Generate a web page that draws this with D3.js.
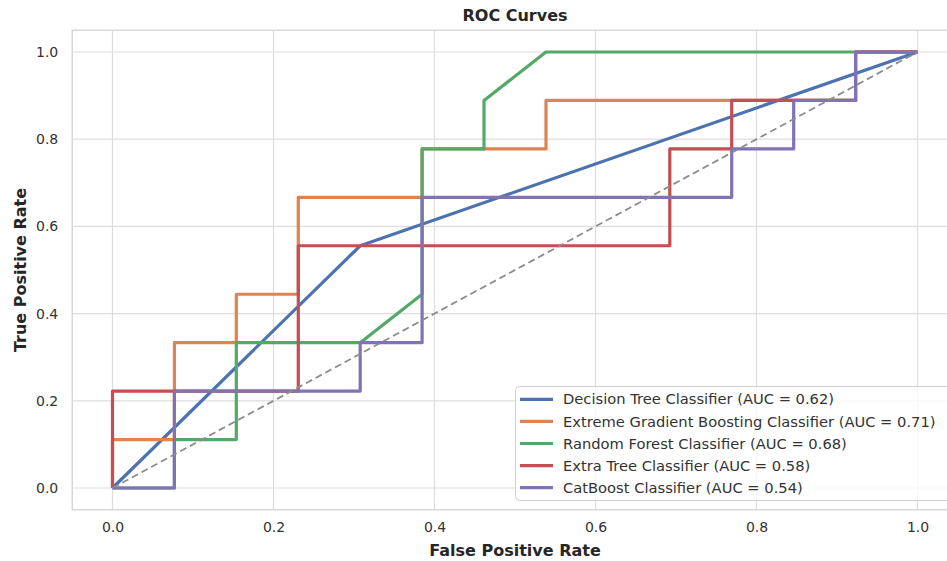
<!DOCTYPE html>
<html>
<head>
<meta charset="utf-8">
<script src="https://cdn.jsdelivr.net/npm/d3@7"></script>
<style>
  html, body { margin: 0; padding: 0; background: #ffffff; }
  svg { display: block; font-family: "DejaVu Sans", sans-serif; }
</style>
</head>
<body>
<svg id="chart" width="947" height="561"></svg>
<script>
// ---- data ----
const seriesNames = [
  "Decision Tree Classifier",
  "Extreme Gradient Boosting Classifier",
  "Random Forest Classifier",
  "Extra Tree Classifier",
  "CatBoost Classifier"
];
const aucValues = [0.62, 0.71, 0.68, 0.58, 0.54];
const seriesColors = ["#4C72B0", "#DD8452", "#55A868", "#C44E52", "#8172B3"];

const dtFpr  = [0, 0.3077, 1];
const dtTpr  = [0, 0.5556, 1];
const xgbFpr = [0, 0, 0.0769, 0.0769, 0.1538, 0.1538, 0.2308, 0.2308, 0.3846, 0.3846, 0.5385, 0.5385, 0.9231, 0.9231, 1];
const xgbTpr = [0, 0.1111, 0.1111, 0.3333, 0.3333, 0.4444, 0.4444, 0.6667, 0.6667, 0.7778, 0.7778, 0.8889, 0.8889, 1, 1];
const rfFpr  = [0, 0.0769, 0.0769, 0.1538, 0.1538, 0.3077, 0.3846, 0.3846, 0.4615, 0.4615, 0.5385, 1];
const rfTpr  = [0, 0, 0.1111, 0.1111, 0.3333, 0.3333, 0.4444, 0.7778, 0.7778, 0.8889, 1, 1];
const etFpr  = [0, 0, 0.2308, 0.2308, 0.6923, 0.6923, 0.7692, 0.7692, 0.9231, 0.9231, 1];
const etTpr  = [0, 0.2222, 0.2222, 0.5556, 0.5556, 0.7778, 0.7778, 0.8889, 0.8889, 1, 1];
const cbFpr  = [0, 0.0769, 0.0769, 0.3077, 0.3077, 0.3846, 0.3846, 0.7692, 0.7692, 0.8462, 0.8462, 0.9231, 0.9231, 1];
const cbTpr  = [0, 0, 0.2222, 0.2222, 0.3333, 0.3333, 0.6667, 0.6667, 0.7778, 0.7778, 0.8889, 0.8889, 1, 1];

const allFpr = [dtFpr, xgbFpr, rfFpr, etFpr, cbFpr];
const allTpr = [dtTpr, xgbTpr, rfTpr, etTpr, cbTpr];

const tickValues = [0.0, 0.2, 0.4, 0.6, 0.8, 1.0];
const titleText = "ROC Curves";
const xLabel = "False Positive Rate";
const yLabel = "True Positive Rate";

// ---- layout ----
const svg = d3.select("#chart");
const pLeft = 72.25, pRight = 957.75, pTop = 30.2, pBottom = 509.8;
const x = d3.scaleLinear().domain([-0.05, 1.05]).range([pLeft, pRight]);
const y = d3.scaleLinear().domain([-0.05, 1.05]).range([pBottom, pTop]);
const gridColor = "#dddddd";
const textColor = "#333333";

// grid
const grid = svg.append("g");
grid.selectAll(".vg").data(tickValues).join("line")
  .attr("x1", d => x(d)).attr("x2", d => x(d))
  .attr("y1", pTop).attr("y2", pBottom)
  .attr("stroke", gridColor).attr("stroke-width", 1.2);
grid.selectAll(".hg").data(tickValues).join("line")
  .attr("x1", pLeft).attr("x2", pRight)
  .attr("y1", d => y(d)).attr("y2", d => y(d))
  .attr("stroke", gridColor).attr("stroke-width", 1.2);

// spines
svg.append("rect")
  .attr("x", pLeft).attr("y", pTop)
  .attr("width", pRight - pLeft).attr("height", pBottom - pTop)
  .attr("fill", "none").attr("stroke", "#d6d6d6").attr("stroke-width", 1.4);

// axes (ticks via d3 axes, lines hidden)
const xAxis = d3.axisBottom(x).tickValues(tickValues).tickFormat(d3.format(".1f")).tickSize(0).tickPadding(12);
const yAxis = d3.axisLeft(y).tickValues(tickValues).tickFormat(d3.format(".1f")).tickSize(0).tickPadding(14);
const gx = svg.append("g").attr("transform", `translate(0,${pBottom})`).call(xAxis);
const gy = svg.append("g").attr("transform", `translate(${pLeft},0)`).call(yAxis);
[gx, gy].forEach(g => {
  g.select(".domain").remove();
  g.selectAll("text").attr("fill", textColor).style("font-size", "14px")
    .style("font-family", "DejaVu Sans, sans-serif");
});

// curves
const line = d3.line().x(d => x(d[0])).y(d => y(d[1]));
allFpr.forEach((fpr, i) => {
  const pts = fpr.map((f, j) => [f, allTpr[i][j]]);
  svg.append("path")
    .attr("d", line(pts))
    .attr("fill", "none")
    .attr("stroke", seriesColors[i])
    .attr("stroke-width", 3.2)
    .attr("stroke-linejoin", "round")
    .attr("stroke-linecap", "butt");
});

// diagonal
svg.append("path")
  .attr("d", line([[0, 0], [1, 1]]))
  .attr("fill", "none")
  .attr("stroke", "#8c8c8c")
  .attr("stroke-width", 1.8)
  .attr("stroke-dasharray", "7,4");

// title & labels
svg.append("text").attr("x", (pLeft + pRight) / 2).attr("y", 21)
  .attr("text-anchor", "middle").attr("font-weight", "bold")
  .attr("font-size", "16px").attr("fill", "#262626").text(titleText);
svg.append("text").attr("x", (pLeft + pRight) / 2).attr("y", 556)
  .attr("text-anchor", "middle").attr("font-weight", "bold")
  .attr("font-size", "16px").attr("fill", "#262626").text(xLabel);
svg.append("text")
  .attr("transform", `translate(26,${(pTop + pBottom) / 2}) rotate(-90)`)
  .attr("text-anchor", "middle").attr("font-weight", "bold")
  .attr("font-size", "16px").attr("fill", "#262626").text(yLabel);

// legend
const lg = svg.append("g");
lg.append("rect")
  .attr("x", 515.5).attr("y", 386.5)
  .attr("width", 450).attr("height", 114)
  .attr("rx", 4).attr("ry", 4)
  .attr("fill", "#ffffff").attr("fill-opacity", 0.8)
  .attr("stroke", "#d0d0d0").attr("stroke-width", 1);
seriesNames.forEach((name, i) => {
  const cy = 399.3 + i * 22.1;
  lg.append("line")
    .attr("x1", 520).attr("x2", 553)
    .attr("y1", cy).attr("y2", cy)
    .attr("stroke", seriesColors[i]).attr("stroke-width", 3.2);
  lg.append("text")
    .attr("x", 563).attr("y", cy).attr("dy", "0.35em")
    .attr("font-size", "14.7px").attr("fill", textColor)
    .text(`${name} (AUC = ${aucValues[i].toFixed(2)})`);
});
</script>
</body>
</html>
